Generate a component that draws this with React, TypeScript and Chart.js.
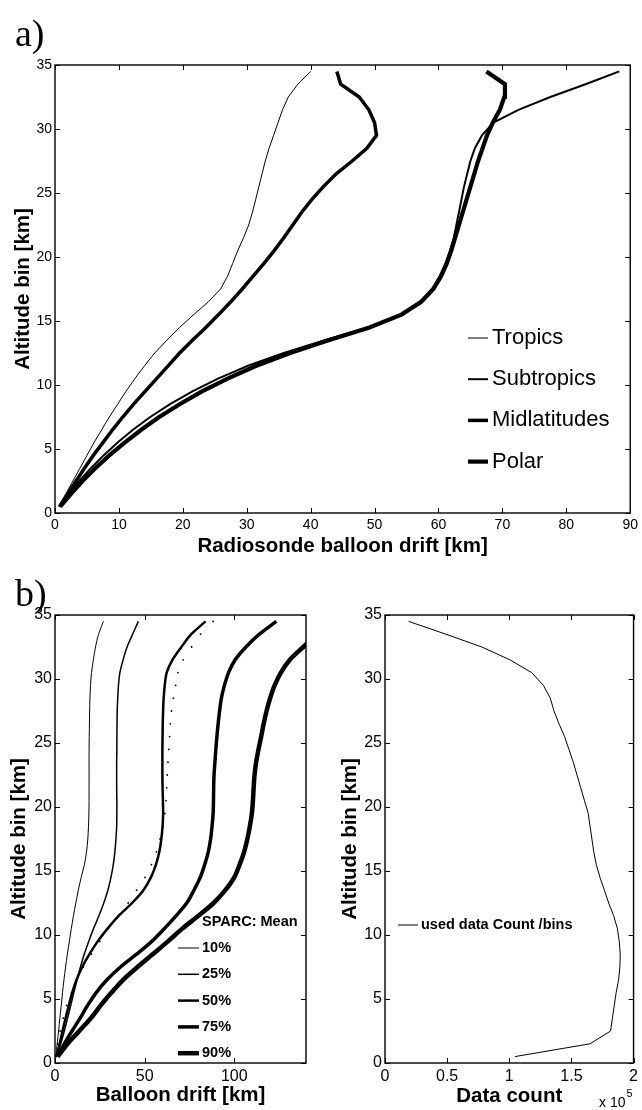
import React, { useEffect, useRef } from 'react';
import { Chart, registerables } from 'chart.js';

Chart.register(...registerables);

// ---------- data ----------
const ALT_BINS = [0.5, 1.5, 2.5, 3.5, 4.5, 5.5, 6.5, 7.5, 8.5, 9.5, 10.5, 11.5, 12.5, 13.5, 14.5, 15.5, 16.5, 17.5, 18.5, 19.5, 20.5, 21.5, 22.5, 23.5, 24.5, 25.5, 26.5, 27.5, 28.5, 29.5, 30.5, 31.5, 32.5, 33.5, 34.5];

// panel a) mean drift per latitude band [km]
const TROPICS = [0.6, 1.7, 2.8, 3.9, 5.0, 6.1, 7.3, 8.5, 9.8, 11.1, 12.5, 14.0, 15.6, 17.5, 19.5, 21.7, 24.0, 25.9, 27.0, 27.8, 28.6, 29.5, 30.3, 30.9, 31.4, 31.9, 32.4, 32.9, 33.5, 34.2, 34.9, 35.6, 36.5, 38.0, 40.0];
const SUBTROPICS = [0.7, 2.2, 3.8, 5.6, 7.6, 9.8, 12.2, 14.9, 18.0, 21.5, 25.5, 30.2, 35.8, 42.2, 49.0, 54.5, 57.3, 59.0, 60.2, 61.1, 61.8, 62.4, 62.8, 63.2, 63.6, 64.0, 64.5, 65.0, 65.7, 66.8, 68.6, 72.5, 77.5, 83.0, 88.3];
const MIDLATITUDES = [0.7, 2.0, 3.3, 4.6, 6.0, 7.5, 9.0, 10.6, 12.3, 14.1, 15.9, 17.7, 19.5, 21.5, 23.6, 25.6, 27.5, 29.3, 31.0, 32.7, 34.3, 35.8, 37.2, 38.6, 40.2, 42.0, 44.0, 46.5, 48.8, 50.3, 50.0, 49.1, 47.6, 44.7, 44.1];
const POLAR = [0.8, 2.5, 4.3, 6.3, 8.5, 10.9, 13.5, 16.3, 19.5, 23.0, 27.0, 31.5, 36.8, 42.8, 49.2, 54.2, 57.3, 59.2, 60.4, 61.3, 62.0, 62.6, 63.2, 63.8, 64.4, 65.0, 65.6, 66.2, 66.9, 67.6, 68.5, 69.6, 70.3, 70.4, 67.5];

// panel b) left: percentiles of drift [km]
const SPARC_MEAN = [0.6, 1.5, 2.9, 4.6, 6.5, 9.2, 12.1, 15.8, 20.3, 25.0, 29.8, 35.2, 40.8, 45.5, 50.2, 53.8, 56.6, 58.6, 60.3, 61.3, 61.9, 62.3, 62.6, 63.0, 63.5, 63.9, 64.3, 65.0, 66.0, 67.3, 68.6, 71.5, 76.2, 81.2, 88.2];
const P10 = [0.5, 1.2, 2.0, 2.7, 3.5, 4.2, 5.0, 5.9, 6.9, 8.0, 9.1, 10.3, 11.6, 13.0, 14.6, 16.4, 17.6, 18.3, 18.7, 18.9, 19.0, 19.0, 19.0, 19.0, 19.0, 19.1, 19.2, 19.3, 19.5, 19.8, 20.4, 21.4, 22.6, 24.3, 27.0];
const P25 = [1.0, 3.2, 5.2, 7.0, 8.8, 10.5, 12.3, 14.2, 16.3, 18.8, 21.5, 24.5, 27.2, 29.5, 31.2, 32.5, 33.4, 34.0, 34.4, 34.5, 34.5, 34.4, 34.4, 34.4, 34.5, 34.5, 34.6, 34.7, 35.0, 35.4, 36.2, 38.0, 40.2, 43.3, 46.5];
const P50 = [0.8, 2.6, 4.2, 5.9, 7.7, 9.6, 12.0, 15.2, 19.2, 23.8, 29.3, 35.5, 43.0, 49.3, 53.5, 56.3, 58.2, 59.3, 60.0, 60.3, 60.2, 60.0, 59.9, 59.9, 59.9, 60.0, 60.1, 60.3, 60.6, 61.2, 62.3, 65.5, 70.5, 76.0, 84.0];
const P75 = [1.5, 5.2, 9.5, 14.0, 18.2, 23.0, 29.0, 36.5, 45.5, 54.0, 61.0, 67.5, 73.5, 77.5, 81.0, 83.5, 85.5, 86.8, 87.6, 88.2, 88.4, 88.5, 88.7, 89.2, 89.7, 90.3, 91.0, 91.8, 92.8, 94.5, 96.8, 100.5, 106.5, 114.0, 123.5];
const P90 = [1.5, 7.0, 13.5, 20.0, 25.5, 31.5, 38.0, 46.0, 54.5, 63.0, 71.0, 80.0, 88.5, 95.0, 100.0, 103.0, 105.5, 107.3, 108.7, 109.8, 110.4, 110.8, 111.3, 112.2, 113.5, 115.0, 116.4, 118.0, 120.0, 122.5, 126.0, 131.0, 138.5, 146.0, 153.0];

// panel b) right: used data count per bin
const DATA_COUNT = [104500, 165000, 181500, 183000, 184500, 186000, 188000, 189000, 189300, 188500, 187000, 184000, 180000, 176500, 173000, 170000, 168000, 166500, 165000, 163500, 160500, 157500, 154500, 151500, 148000, 144500, 140000, 136000, 133000, 127500, 118000, 100500, 78000, 49000, 19000];

// ticks
const X_TICKS_A = [0, 10, 20, 30, 40, 50, 60, 70, 80, 90];
const Y_TICKS = [0, 5, 10, 15, 20, 25, 30, 35];
const X_TICKS_BL = [0, 50, 100];
const X_TICKS_BR = [0, 50000, 100000, 150000, 200000];
const X_TICK_LABELS_BR = ['0', '0.5', '1', '1.5', '2'];

// ---------- plugins ----------
const FONT = "'Liberation Sans', Arial, Helvetica, sans-serif";

const framePlugin = {
  id: 'frame',
  afterDatasetsDraw(chart: any, _a: any, o: any) {
    const { ctx, chartArea: a } = chart;
    const xs = chart.scales.x;
    const ys = chart.scales.y;
    const L = (o && o.tick) || 5;
    ctx.save();
    ctx.strokeStyle = '#000';
    ctx.lineWidth = 1;
    ctx.beginPath();
    xs.ticks.forEach((t: any) => {
      const px = Math.round(xs.getPixelForValue(t.value)) + 0.5;
      ctx.moveTo(px, a.bottom);
      ctx.lineTo(px, a.bottom - L);
      ctx.moveTo(px, a.top);
      ctx.lineTo(px, a.top + L);
    });
    ys.ticks.forEach((t: any) => {
      const py = Math.round(ys.getPixelForValue(t.value)) + 0.5;
      ctx.moveTo(a.left, py);
      ctx.lineTo(a.left + L, py);
      ctx.moveTo(a.right, py);
      ctx.lineTo(a.right - L, py);
    });
    ctx.stroke();
    ctx.lineWidth = 1.4;
    ctx.strokeRect(a.left, a.top, a.right - a.left, a.bottom - a.top);
    ctx.restore();
  },
};

const sideLegendPlugin = {
  id: 'sideLegend',
  afterDraw(chart: any, _a: any, o: any) {
    if (!o || o.x === undefined) return;
    const ctx = chart.ctx;
    ctx.save();
    ctx.font = o.font;
    ctx.fillStyle = '#000';
    ctx.strokeStyle = '#000';
    ctx.textBaseline = 'middle';
    ctx.textAlign = 'left';
    chart.data.datasets.forEach((ds: any, i: number) => {
      const y = o.y + i * o.dy;
      if (ds.showLine === false) {
        ctx.beginPath();
        ctx.arc(o.x + o.len / 2, y, 0.9, 0, Math.PI * 2);
        ctx.fill();
      } else {
        ctx.lineWidth = ds.borderWidth;
        ctx.beginPath();
        ctx.moveTo(o.x, y);
        ctx.lineTo(o.x + o.len, y);
        ctx.stroke();
      }
      ctx.fillText(ds.label, o.x + o.len + o.gap, y + (o.dyText || 0));
    });
    ctx.restore();
  },
};

function curve(label: string, xs: number[], width: number, tension: number) {
  return {
    label,
    data: ALT_BINS.map((a, i) => ({ x: xs[i], y: a })),
    borderColor: '#000',
    backgroundColor: '#000',
    borderWidth: width,
    pointRadius: 0,
    tension,
    fill: false,
    clip: 0,
  };
}

function makeScales(opts: {
  xMin: number; xMax: number; xTicks: number[]; xLabels?: string[];
  tickFont: number; xTitle: string; yTitle: string;
  yAxisWidth: number; xAxisHeight: number; xTitlePad: number; yTitlePad: number;
}) {
  return {
    x: {
      type: 'linear',
      position: 'bottom',
      min: opts.xMin,
      max: opts.xMax,
      grid: { display: false, drawTicks: false, tickLength: 0 },
      border: { display: false },
      afterBuildTicks: (s: any) => { s.ticks = opts.xTicks.map((v) => ({ value: v })); },
      afterFit: (s: any) => { s.height = opts.xAxisHeight; },
      ticks: {
        font: { family: FONT, size: opts.tickFont },
        color: '#000',
        padding: 4,
        maxRotation: 0,
        autoSkip: false,
        callback: (v: any) => {
          if (opts.xLabels) {
            const i = opts.xTicks.indexOf(v);
            return i >= 0 ? opts.xLabels[i] : '';
          }
          return String(v);
        },
      },
      title: {
        display: true,
        text: opts.xTitle,
        color: '#000',
        font: { family: FONT, size: 20.5, weight: 'bold' },
        padding: { top: 0, bottom: opts.xTitlePad },
      },
    },
    y: {
      type: 'linear',
      position: 'left',
      min: 0,
      max: 35,
      grid: { display: false, drawTicks: false, tickLength: 0 },
      border: { display: false },
      afterBuildTicks: (s: any) => { s.ticks = Y_TICKS.map((v) => ({ value: v })); },
      afterFit: (s: any) => { s.width = opts.yAxisWidth; },
      ticks: {
        font: { family: FONT, size: opts.tickFont },
        color: '#000',
        padding: 3,
        autoSkip: false,
        callback: (v: any) => String(v),
      },
      title: {
        display: true,
        text: opts.yTitle,
        color: '#000',
        font: { family: FONT, size: 20.5, weight: 'bold' },
        padding: { top: opts.yTitlePad, bottom: 0 },
      },
    },
  };
}

function baseOptions(padding: any, scales: any, legend: any) {
  return {
    responsive: false,
    maintainAspectRatio: false,
    animation: false,
    indexAxis: 'y',
    layout: { padding },
    events: [],
    plugins: {
      legend: { display: false },
      tooltip: { enabled: false },
      title: { display: false },
      frame: { tick: 5 },
      sideLegend: legend,
    },
    scales,
  };
}

export default function App() {
  const refA = useRef<HTMLCanvasElement>(null);
  const refBL = useRef<HTMLCanvasElement>(null);
  const refBR = useRef<HTMLCanvasElement>(null);

  useEffect(() => {
    const charts: Chart[] = [];

    charts.push(new Chart(refA.current as HTMLCanvasElement, {
      type: 'line',
      data: {
        datasets: [
          curve('Tropics', TROPICS, 1, 0),
          curve('Subtropics', SUBTROPICS, 2, 0),
          curve('Midlatitudes', MIDLATITUDES, 3.5, 0),
          curve('Polar', POLAR, 4.2, 0),
        ],
      },
      options: baseOptions(
        { left: 0, top: 65, right: 5, bottom: 0 },
        makeScales({
          xMin: 0, xMax: 90, xTicks: X_TICKS_A, tickFont: 14,
          xTitle: 'Radiosonde balloon drift [km]', yTitle: 'Altitude bin [km]',
          yAxisWidth: 55, xAxisHeight: 67, xTitlePad: 21.5, yTitlePad: 11.5,
        }),
        { x: 468, y: 338, dy: 41.2, len: 20, gap: 4, font: `22px ${FONT}` },
      ) as any,
      plugins: [framePlugin, sideLegendPlugin],
    } as any));

    charts.push(new Chart(refBL.current as HTMLCanvasElement, {
      type: 'line',
      data: {
        datasets: [
          { label: 'SPARC: Mean', data: ALT_BINS.map((a, i) => ({ x: SPARC_MEAN[i], y: a })), showLine: false, pointRadius: 0.9, pointBorderWidth: 0, pointBackgroundColor: '#000', borderColor: '#000', borderWidth: 0, clip: 0 },
          curve('10%', P10, 1, 0.3),
          curve('25%', P25, 1.5, 0.3),
          curve('50%', P50, 2.5, 0.3),
          curve('75%', P75, 3.5, 0.3),
          curve('90%', P90, 4.5, 0.3),
        ],
      },
      options: baseOptions(
        { left: 0, top: 35, right: 24, bottom: 0 },
        makeScales({
          xMin: 0, xMax: 140, xTicks: X_TICKS_BL, tickFont: 16,
          xTitle: 'Balloon drift [km]', yTitle: 'Altitude bin [km]',
          yAxisWidth: 55, xAxisHeight: 47, xTitlePad: 2.5, yTitlePad: 7.5,
        }),
        { x: 178, y: 341.7, dy: 26.3, len: 21, gap: 3, font: `bold 14.5px ${FONT}` },
      ) as any,
      plugins: [framePlugin, sideLegendPlugin],
    } as any));

    charts.push(new Chart(refBR.current as HTMLCanvasElement, {
      type: 'line',
      data: {
        datasets: [
          {
            label: 'used data Count /bins',
            data: ALT_BINS.map((a, i) => ({ x: DATA_COUNT[i], y: a })),
            borderColor: '#000', borderWidth: 1, pointRadius: 0, tension: 0, fill: false, clip: 0,
          },
        ],
      },
      options: baseOptions(
        { left: 0, top: 35, right: 6, bottom: 0 },
        makeScales({
          xMin: 0, xMax: 200000, xTicks: X_TICKS_BR, xLabels: X_TICK_LABELS_BR, tickFont: 16,
          xTitle: 'Data count', yTitle: 'Altitude bin [km]',
          yAxisWidth: 55, xAxisHeight: 47, xTitlePad: 1.5, yTitlePad: 8.5,
        }),
        { x: 68, y: 345, dy: 26, len: 20, gap: 3, font: `bold 14.5px ${FONT}` },
      ) as any,
      plugins: [framePlugin, sideLegendPlugin],
    } as any));

    return () => { charts.forEach((c) => c.destroy()); };
  }, []);

  const serif = "'Liberation Serif', 'DejaVu Serif', serif";
  return (
    <div style={{ position: 'absolute', left: 0, top: 0, width: 642, height: 1110, overflow: 'hidden', background: '#fff' }}>
      <canvas ref={refA} width={642} height={580} style={{ position: 'absolute', left: 0, top: 0, width: 642, height: 580 }} />
      <canvas ref={refBL} width={330} height={530} style={{ position: 'absolute', left: 0, top: 580, width: 330, height: 530 }} />
      <canvas ref={refBR} width={312} height={530} style={{ position: 'absolute', left: 330, top: 580, width: 312, height: 530 }} />
      <div style={{ position: 'absolute', left: 15, top: 14, fontFamily: serif, fontSize: 38, lineHeight: 1, color: '#000' }}>a)</div>
      <div style={{ position: 'absolute', left: 15, top: 574, fontFamily: serif, fontSize: 38, lineHeight: 1, color: '#000' }}>b)</div>
      <div style={{ position: 'absolute', left: 599, top: 1095, fontFamily: FONT, fontSize: 14, lineHeight: 1, color: '#000', whiteSpace: 'nowrap' }}>
        x 10<span style={{ position: 'relative', top: -10, fontSize: 11, marginLeft: 1 }}>5</span>
      </div>
    </div>
  );
}
